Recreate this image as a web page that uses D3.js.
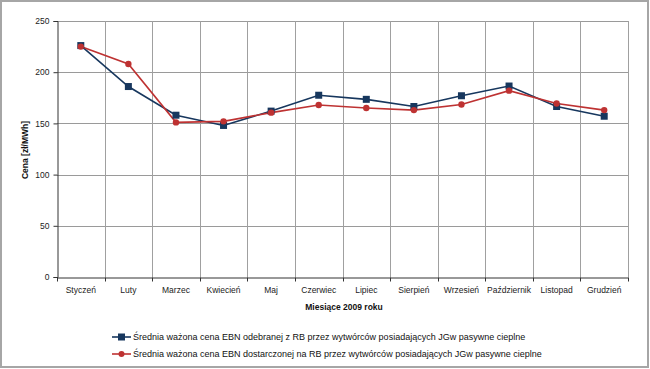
<!DOCTYPE html>
<html><head><meta charset="utf-8">
<script src="https://cdn.jsdelivr.net/npm/d3@7"></script>
<style>body{margin:0;background:#fff}svg{display:block}text{font-family:"Liberation Sans",Arial,sans-serif}</style>
</head><body><svg id="c" width="650" height="369"></svg>
<script>
const months = ["Styczeń","Luty","Marzec","Kwiecień","Maj","Czerwiec","Lipiec","Sierpień","Wrzesień","Październik","Listopad","Grudzień"];
const odebranej = [226,186,158,148,162,177.5,173.5,166.5,177,186.5,166.5,157];
const dostarczonej = [225,208,151,152,160.5,168,165,163,168.5,182,169.5,163];
const yTicks = [0,50,100,150,200,250];
const seriesNames = ["Średnia ważona cena EBN odebranej z RB przez wytwórców posiadających JGw pasywne cieplne",
 "Średnia ważona cena EBN dostarczonej na RB przez wytwórców posiadających JGw pasywne cieplne"];
const colors = ["#17375E","#BE3232"];

const svg = d3.select("#c");
svg.append("rect").attr("x",1).attr("y",1).attr("width",647).attr("height",366)
  .attr("fill","#fff").attr("stroke","#a6a6a6").attr("stroke-width",2);

const L=57,R=628,T=21,B=277;
const x = d3.scaleBand().domain(months).range([L,R]);
const y = d3.scaleLinear().domain([0,250]).range([B,T]);

const g = svg.append("g");
g.selectAll(".hg").data(yTicks.filter(d=>d>0)).join("line")
  .attr("x1",L).attr("x2",R).attr("y1",d=>Math.round(y(d))+0.5).attr("y2",d=>Math.round(y(d))+0.5)
  .attr("stroke","#9a9a9a").attr("stroke-width",1);
const bounds = months.slice(1).map(m=>x(m));
bounds.push(R);
g.selectAll(".vg").data(bounds).join("line")
  .attr("x1",d=>Math.round(d)+0.5).attr("x2",d=>Math.round(d)+0.5).attr("y1",T).attr("y2",B)
  .attr("stroke","#a0a0a0").attr("stroke-width",1);

const ya = d3.axisLeft(y).tickValues(yTicks).tickSize(4).tickPadding(4);
const yg = svg.append("g").attr("transform",`translate(${L+0.5},0)`).call(ya);
yg.select(".domain").attr("stroke","#333");
yg.selectAll(".tick line").attr("stroke","#333");
yg.selectAll(".tick text").attr("font-size",8.5).attr("fill","#222");

const xa = d3.axisBottom(x).tickSize(0).tickPadding(9);
const xg = svg.append("g").attr("transform",`translate(0,${B+0.5})`).call(xa);
xg.select(".domain").attr("stroke","#333");
xg.selectAll(".tick text").attr("font-size",8.5).attr("fill","#222");
xg.selectAll(".bt").data([L].concat(bounds)).join("line")
  .attr("x1",d=>Math.round(d)+0.5).attr("x2",d=>Math.round(d)+0.5).attr("y1",0).attr("y2",4).attr("stroke","#333");

svg.append("text").attr("transform","translate(28,150) rotate(-90)").attr("text-anchor","middle")
  .attr("font-size",8.5).attr("font-weight","bold").attr("fill","#111").text("Cena [zł/MWh]");
svg.append("text").attr("x",344).attr("y",310).attr("text-anchor","middle")
  .attr("font-size",8.5).attr("font-weight","bold").attr("fill","#111").text("Miesiące 2009  roku");

const data = [odebranej, dostarczonej];
const line = d3.line().x((d,i)=>x(months[i])+x.bandwidth()/2).y(d=>y(d));
data.forEach((s,k)=>{
  svg.append("path").datum(s).attr("d",line).attr("fill","none").attr("stroke",colors[k]).attr("stroke-width",1.6);
});
svg.selectAll(".sq").data(odebranej).join("rect")
  .attr("x",(d,i)=>x(months[i])+x.bandwidth()/2-3.5).attr("y",d=>y(d)-3.5)
  .attr("width",7).attr("height",7).attr("fill",colors[0]);
svg.selectAll(".dc").data(dostarczonej).join("circle")
  .attr("cx",(d,i)=>x(months[i])+x.bandwidth()/2).attr("cy",d=>y(d)).attr("r",3.2).attr("fill",colors[1]);

const lg = svg.append("g");
seriesNames.forEach((n,k)=>{
  const yy = 337 + k*17;
  lg.append("line").attr("x1",112).attr("x2",131).attr("y1",yy).attr("y2",yy).attr("stroke",colors[k]).attr("stroke-width",1.6);
  if(k===0) lg.append("rect").attr("x",118).attr("y",yy-3.5).attr("width",7).attr("height",7).attr("fill",colors[0]);
  else lg.append("circle").attr("cx",121.5).attr("cy",yy).attr("r",3).attr("fill",colors[1]);
  lg.append("text").attr("x",133).attr("y",yy+3).attr("font-size",9).attr("fill","#111").text(n);
});
</script></body></html>
